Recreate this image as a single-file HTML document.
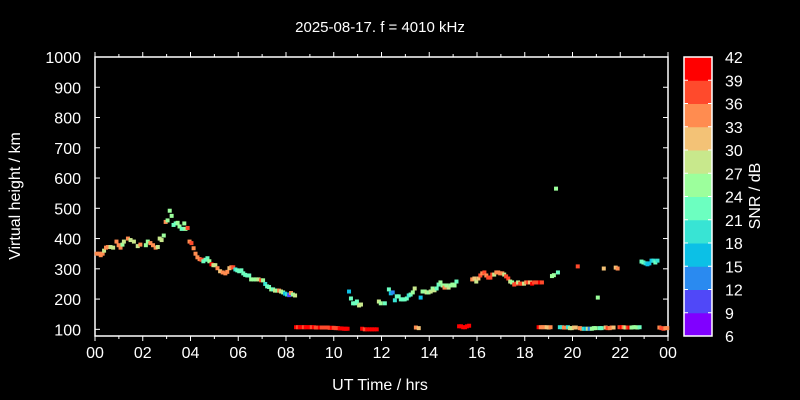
<!DOCTYPE html>
<html><head><meta charset="utf-8"><style>
body{margin:0;background:#000;}
svg{display:block;font-family:"Liberation Sans",sans-serif;}
</style></head><body>
<svg id="c" width="800" height="400" viewBox="0 0 800 400">
<rect width="800" height="400" fill="#000"/>
<text x="380" y="32" fill="#fff" font-size="15" text-anchor="middle">2025-08-17. f = 4010 kHz</text>
<text x="380" y="390" fill="#fff" font-size="16" text-anchor="middle">UT Time / hrs</text>
<text transform="translate(20,196) rotate(-90)" fill="#fff" font-size="16" text-anchor="middle">Virtual height / km</text>
<text transform="translate(760,196) rotate(-90)" fill="#fff" font-size="16" text-anchor="middle">SNR / dB</text>
<g id="axes"></g><g id="pts"></g><g id="cbar"></g>
</svg>
<script>
const xTickLabels=["00","02","04","06","08","10","12","14","16","18","20","22","00"];
const yTicks=[100,200,300,400,500,600,700,800,900,1000];
const cbarTicks=[6,9,12,15,18,21,24,27,30,33,36,39,42];
const cbarColors=["#8000ff","#5048f8","#2a8af0","#0cc0e6","#38e4d4","#6cffc0","#9cff9c","#c8e88c","#f3c276","#ff8c50","#ff4a2c","#ff0000"];
const times=[0.07,0.18,0.24,0.32,0.38,0.46,0.54,0.65,0.76,0.9,0.99,1.07,1.15,1.21,1.38,1.49,1.63,1.79,1.9,2.13,2.21,2.32,2.43,2.54,2.63,2.71,2.79,2.88,2.96,3.04,3.13,3.21,3.29,3.38,3.46,3.54,3.63,3.74,3.79,3.88,3.96,4.04,4.13,4.21,4.29,4.38,4.46,4.54,4.63,4.71,4.79,4.88,4.96,5.04,5.13,5.24,5.35,5.46,5.54,5.63,5.71,5.79,5.88,5.96,6.04,6.13,6.21,6.29,6.38,6.46,6.54,6.65,6.75,6.85,6.96,7.04,7.13,7.21,7.29,7.38,7.46,7.54,7.63,7.71,7.79,7.88,7.96,8.04,8.13,8.21,8.29,8.38,
8.42,8.5,8.58,8.67,8.75,8.83,8.92,9.0,9.08,9.17,9.25,9.33,9.42,9.5,9.58,9.67,9.75,9.83,9.92,10.0,10.08,10.17,10.25,10.33,10.42,10.5,10.58,
11.19,11.3,11.4,11.5,11.6,11.7,11.8,13.44,13.56,15.25,15.33,15.42,15.5,15.58,15.67,
10.64,10.72,10.81,10.89,10.97,11.06,11.14,11.89,11.97,12.14,12.31,12.39,12.47,12.56,12.64,12.72,12.81,12.89,12.97,13.06,13.14,13.22,13.31,13.39,13.64,13.72,13.81,13.89,13.97,14.06,14.14,14.22,14.31,14.39,14.47,14.56,14.64,14.72,14.81,14.89,14.97,15.06,15.14,
15.8,15.89,15.97,16.06,16.14,16.22,16.31,16.39,16.47,16.56,16.64,16.72,16.81,16.89,16.97,17.06,17.14,17.22,17.31,17.39,17.47,17.56,17.64,17.72,17.81,17.89,17.97,18.06,18.14,18.22,18.31,18.39,18.47,18.56,18.64,18.72,
19.31,19.14,19.22,19.39,20.22,21.06,21.31,21.81,21.89,22.89,22.97,23.06,23.14,23.22,23.31,23.39,23.47,23.56,
18.58,18.67,18.75,18.83,18.92,19.0,19.08,19.47,19.56,19.64,19.72,19.81,19.89,19.97,20.06,20.14,20.31,20.39,20.47,20.56,20.64,20.72,20.81,20.89,20.97,21.14,21.22,21.39,21.47,21.56,21.64,21.72,21.97,22.06,22.14,22.22,22.31,22.39,22.47,22.56,22.64,22.72,22.81,23.64,23.72,23.81,23.89,23.97];
const heights=[350,350,345,350,360,370,372,372,370,390,378,370,380,390,400,395,390,375,380,378,390,385,378,370,372,400,395,410,455,460,492,475,445,450,452,440,432,450,432,435,390,385,368,350,338,332,330,325,330,335,325,315,312,312,302,292,288,285,290,302,305,305,298,295,292,295,285,280,278,278,265,265,265,265,262,262,250,242,240,232,232,228,228,228,225,222,218,215,213,220,215,212,
107,107,107,107,107,107,107,107,107,107,106,106,106,106,106,106,106,105,105,105,104,104,103,103,102,102,102,
102,100,100,100,100,100,100,106,104,110,110,107,107,110,112,
225,202,186,186,192,179,182,192,186,186,232,219,222,196,209,209,199,199,199,202,212,215,222,235,205,225,225,222,222,225,235,229,235,248,255,245,238,245,238,245,248,245,258,
265,268,258,268,278,285,288,278,271,271,281,281,288,288,285,285,281,275,268,258,255,248,251,255,251,251,251,255,255,255,251,255,255,255,255,255,
565,276,279,288,308,205,301,304,301,324,321,318,315,318,327,327,321,327,
107,107,107,107,107,106,107,107,107,106,106,107,104,104,106,106,104,102,102,102,102,102,102,104,104,104,104,106,104,104,106,106,107,107,107,106,106,106,106,107,107,106,107,106,104,102,104,104];
const snrs=[33,33,33,33,27,33,33,27,27,33,33,33,24,27,33,27,27,27,33,24,24,33,33,33,27,27,27,24,33,24,24,24,21,21,24,24,21,24,24,36,33,36,33,33,33,33,36,21,21,21,24,39,27,27,33,30,33,33,33,30,33,36,18,21,21,21,21,21,21,21,24,24,24,27,36,24,18,21,21,24,21,27,24,33,27,24,15,18,9,33,24,27,
42,36,42,42,36,42,42,42,36,42,36,36,42,36,36,36,36,36,42,36,36,36,39,39,42,42,42,
39,36,42,42,42,42,42,33,30,42,42,42,39,39,42,
15,21,21,21,21,27,27,27,24,21,21,15,12,18,21,21,21,21,21,21,18,21,24,27,15,24,24,27,24,27,24,27,21,21,24,24,33,24,27,24,24,24,21,
33,30,27,30,36,33,36,33,36,36,36,27,33,33,33,33,27,36,36,27,24,36,36,27,36,36,27,33,36,30,39,36,36,36,42,36,
24,24,24,21,36,24,30,30,33,21,21,18,15,15,15,18,21,18,
42,33,33,33,30,30,33,18,18,33,33,18,27,27,30,30,33,33,18,15,27,12,24,24,24,21,21,30,36,33,33,30,36,42,33,27,36,42,24,24,24,24,21,33,36,36,33,33];
const X0=95,X1=668,Y0=57,Y1=336,H0=78,H1=1000;
const NS="http://www.w3.org/2000/svg";
function xs(t){return X0+(X1-X0)*t/24;}
function ys(h){return Y1-(Y1-Y0)*(h-H0)/(H1-H0);}
function col(s){let i=Math.floor((s-6)/3);if(i<0)i=0;if(i>11)i=11;return cbarColors[i];}
function mk(tag,at,parent){const e=document.createElementNS(NS,tag);for(const k in at)e.setAttribute(k,at[k]);parent.appendChild(e);return e;}
const ax=document.getElementById('axes'),pg=document.getElementById('pts'),cb=document.getElementById('cbar');
const frame=mk('rect',{x:X0,y:Y0,width:X1-X0,height:Y1-Y0,fill:'none',stroke:'#fff','stroke-width':1.5},ax);


for(let h=0;h<=24;h++){const x=xs(h),L=h%2==0?5:3;
 const t1=mk('line',{x1:x,x2:x,y1:Y1,y2:Y1+L,stroke:'#fff'},ax);
 
 
 const t2=mk('line',{x1:x,x2:x,y1:Y0,y2:Y0-L,stroke:'#fff'},ax);
 
 }
xTickLabels.forEach((l,i)=>{const t=mk('text',{x:xs(i*2),y:Y1+22,fill:'#fff','font-size':16,'text-anchor':'middle'},ax);t.textContent=l;
 
 });
yTicks.forEach(v=>{const y=ys(v);
 const a=mk('line',{x1:X0,x2:X0+5,y1:y,y2:y,stroke:'#fff'},ax);
 
 
 const b=mk('line',{x1:X1,x2:X1-5,y1:y,y2:y,stroke:'#fff'},ax);
 
 
 const t=mk('text',{x:X0-14,y:y+6,fill:'#fff','font-size':16,'text-anchor':'end'},ax);t.textContent=v;
 
 });
times.forEach((t,i)=>{const r=mk('rect',{x:xs(t)-2,y:ys(heights[i])-2,width:4,height:4,fill:col(snrs[i])},pg);
 
 });
const CX=684,CW=28,bh=(Y1-Y0)/12;
cbarColors.forEach((c,i)=>{const r=mk('rect',{x:CX,y:Y1-(i+1)*bh,width:CW,height:bh+0.5,fill:c},cb);
 
 });
const cf=mk('rect',{x:CX,y:Y0,width:CW,height:Y1-Y0,fill:'none',stroke:'#fff','stroke-width':1.5},cb);


cbarTicks.forEach((v,i)=>{const y=Y1-i*bh;
 const a=mk('line',{x1:CX,x2:CX+4,y1:y,y2:y,stroke:'#fff'},cb);
 
 
 const b=mk('line',{x1:CX+CW,x2:CX+CW-4,y1:y,y2:y,stroke:'#fff'},cb);
 
 
 const t=mk('text',{x:725,y:y+6,fill:'#fff','font-size':16},cb);t.textContent=v;
 
 });
</script>
</body></html>
